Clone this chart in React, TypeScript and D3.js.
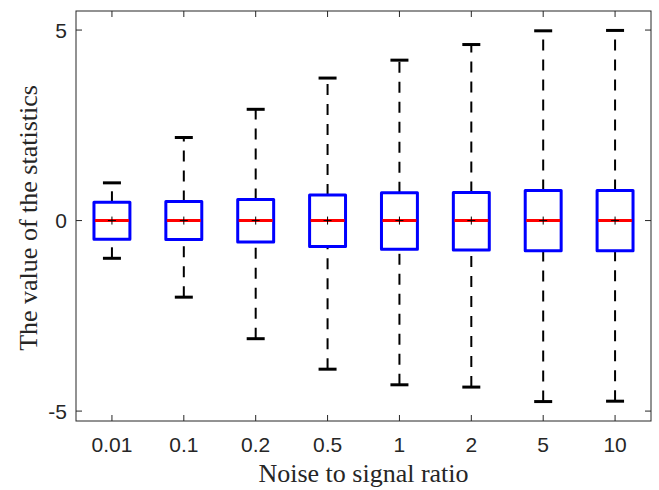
import React from 'react';
import * as d3 from 'd3';

// noise-to-signal ratios (categories)
const ratios = ['0.01', '0.1', '0.2', '0.5', '1', '2', '5', '10'];
// box statistics
const upperWhisker = [0.99, 2.18, 2.92, 3.74, 4.21, 4.62, 4.98, 4.99];
const q3 = [0.48, 0.5, 0.55, 0.67, 0.73, 0.74, 0.79, 0.79];
const medians = [0, 0, 0, 0, 0, 0, 0, 0];
const q1 = [-0.49, -0.5, -0.56, -0.68, -0.75, -0.77, -0.79, -0.79];
const lowerWhisker = [-0.99, -2.01, -3.1, -3.9, -4.31, -4.37, -4.75, -4.74];
const means = [0, 0, 0, 0, 0, 0, 0, 0];
const yTicks = [-5, 0, 5];

const W = 659;
const H = 490;
const left = 76;
const right = 651;
const top = 11;
const bottom = 421;
const axisColor = '#262626';
const tickLen = 6;

const App = () => {
  // positions 1..8, MATLAB-like
  const x = d3.scaleLinear().domain([0.5, ratios.length + 0.5]).range([left, right]);
  const y = d3.scaleLinear().domain([-5.26, 5.5]).range([bottom, top]);
  const half = (x(1.25) - x(1)); // box half-width = 0.25 units

  const capHalf = 9;
  const sans = '"Liberation Sans", Arial, Helvetica, sans-serif';
  const serif = '"Liberation Serif", "Times New Roman", serif';

  return (
    <svg width={W} height={H} style={{ position: 'absolute', left: 0, top: 0 }}>
      <rect x={0} y={0} width={W} height={H} fill="#fff" />

      {/* boxes */}
      {ratios.map((r, i) => {
        const cx = x(i + 1);
        return (
          <g key={r}>
            {/* upper whisker, drawn from box to cap */}
            <line
              x1={cx} x2={cx} y1={y(q3[i])} y2={y(upperWhisker[i])}
              stroke="#000" strokeWidth={2} strokeDasharray="11 9"
            />
            {/* lower whisker, drawn from cap to box */}
            <line
              x1={cx} x2={cx} y1={y(lowerWhisker[i])} y2={y(q1[i])}
              stroke="#000" strokeWidth={2} strokeDasharray="11 9"
            />
            <line x1={cx - capHalf} x2={cx + capHalf} y1={y(upperWhisker[i])} y2={y(upperWhisker[i])}
              stroke="#000" strokeWidth={3} />
            <line x1={cx - capHalf} x2={cx + capHalf} y1={y(lowerWhisker[i])} y2={y(lowerWhisker[i])}
              stroke="#000" strokeWidth={3} />
            <rect
              x={cx - half} y={y(q3[i])} width={2 * half} height={y(q1[i]) - y(q3[i])}
              fill="none" stroke="#0000ff" strokeWidth={3} strokeLinejoin="round"
            />
            <line x1={cx - half + 1} x2={cx + half - 1} y1={y(medians[i])} y2={y(medians[i])}
              stroke="#ff0000" strokeWidth={3} />
            {/* mean marker */}
            <line x1={cx - 4} x2={cx + 4} y1={y(means[i])} y2={y(means[i])} stroke="#000" strokeWidth={1} />
            <line x1={cx} x2={cx} y1={y(means[i]) - 4} y2={y(means[i]) + 4} stroke="#000" strokeWidth={1} />
          </g>
        );
      })}

      {/* axes box */}
      <rect x={left} y={top} width={right - left} height={bottom - top} fill="none" stroke={axisColor} strokeWidth={1} />

      {/* x ticks and labels */}
      {ratios.map((r, i) => (
        <g key={'xt' + r}>
          <line x1={x(i + 1)} x2={x(i + 1)} y1={bottom} y2={bottom - tickLen} stroke={axisColor} />
          <line x1={x(i + 1)} x2={x(i + 1)} y1={top} y2={top + tickLen} stroke={axisColor} />
          <text x={x(i + 1)} y={452} textAnchor="middle" fontFamily={sans} fontSize={21} fill={axisColor}>
            {r}
          </text>
        </g>
      ))}

      {/* y ticks and labels */}
      {yTicks.map(t => (
        <g key={'yt' + t}>
          <line x1={left} x2={left + tickLen} y1={y(t)} y2={y(t)} stroke={axisColor} />
          <line x1={right} x2={right - tickLen} y1={y(t)} y2={y(t)} stroke={axisColor} />
          <text x={67} y={y(t) + 7.5} textAnchor="end" fontFamily={sans} fontSize={21} fill={axisColor}>
            {String(t)}
          </text>
        </g>
      ))}

      <text x={(left + right) / 2} y={482} textAnchor="middle" fontFamily={serif} fontSize={26} fill={axisColor}>
        Noise to signal ratio
      </text>
      <text
        transform={`translate(37, ${(top + bottom) / 2 + 2}) rotate(-90)`}
        textAnchor="middle" fontFamily={serif} fontSize={26} fill={axisColor}
      >
        The value of the statistics
      </text>
    </svg>
  );
};

export default App;
